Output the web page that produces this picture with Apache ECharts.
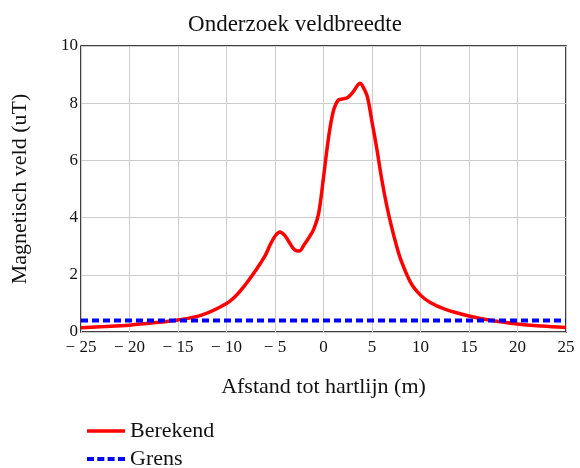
<!DOCTYPE html>
<html><head><meta charset="utf-8">
<script src="https://cdn.jsdelivr.net/npm/echarts@6/dist/echarts.min.js"></script>
<style>html,body{margin:0;padding:0;background:#fff}#c{width:580px;height:468px}</style>
</head><body><div id="c"></div>
<script>
const afstand = [-25,-22.5,-20,-17.5,-15,-12.5,-10,-9,-8,-7,-6,-5.5,-5,-4.5,-4,-3.5,-3,-2.5,-2,-1.5,-1,-0.5,0,0.5,1,1.5,2,2.5,3,3.5,3.75,4,4.5,5,5.5,6,6.5,7,7.5,8,9,10,11,12.5,15,17.5,20,22.5,25];
const berekend = [0.15,0.19,0.24,0.32,0.42,0.6,1.0,1.28,1.68,2.15,2.68,3.05,3.35,3.5,3.38,3.12,2.88,2.83,3.05,3.3,3.6,4.15,5.4,6.75,7.7,8.1,8.15,8.2,8.37,8.62,8.7,8.62,8.25,7.35,6.4,5.35,4.45,3.7,3.05,2.5,1.72,1.29,1.03,0.8,0.56,0.39,0.28,0.21,0.16];
const grensX = [-25, 25];
const grens = [0.4, 0.4];

const serif = '"Liberation Serif","DejaVu Serif",serif';
const legendText = {fontFamily: serif, fontSize: 22, color: '#111'};
const chart = echarts.init(document.getElementById('c'));
chart.setOption({
  animation: false,
  backgroundColor: '#fff',
  title: {text: 'Onderzoek veldbreedte', left: 290, top: 8, textAlign: 'center',
    textStyle: {fontFamily: serif, fontSize: 23, fontWeight: 'normal', color: '#111'}},
  grid: {left: 81, right: 14, top: 46, bottom: 136, show: true, borderColor: '#000', borderWidth: 1.5, backgroundColor: 'transparent'},
  legend: [
    {left: 82, top: 415, itemWidth: 38, itemHeight: 3.5, textStyle: legendText,
     data: [{name: 'Berekend', icon: 'rect'}]},
    {left: 82, top: 443, itemWidth: 38, itemHeight: 4, textStyle: legendText,
     data: [{name: 'Grens', icon: 'path://M0 0h7v4H0z M10.3 0h7v4h-7z M20.6 0h7v4h-7z M30.9 0h7.1v4h-7.1z'}]}
  ],
  xAxis: {type: 'value', min: -25, max: 25, interval: 5,
    name: 'Afstand tot hartlijn (m)', nameLocation: 'middle', nameGap: 44,
    nameTextStyle: {fontFamily: serif, fontSize: 22, color: '#111'},
    axisLine: {show: false}, axisTick: {show: false},
    axisLabel: {fontFamily: serif, fontSize: 17, color: '#111', margin: 7,
      formatter: v => v < 0 ? '\u2212 ' + (-v) : String(v)},
    splitLine: {show: true, lineStyle: {color: '#cccccc', width: 1}}},
  yAxis: {type: 'value', min: 0, max: 10, interval: 2,
    name: 'Magnetisch veld (uT)', nameLocation: 'middle', nameGap: 50,
    nameTextStyle: {fontFamily: serif, fontSize: 22, color: '#111'},
    axisLine: {show: false}, axisTick: {show: false},
    axisLabel: {fontFamily: serif, fontSize: 17, color: '#111', margin: 3},
    splitLine: {show: true, lineStyle: {color: '#cccccc', width: 1}}},
  series: [
    {name: 'Berekend', type: 'line', smooth: 0.35, symbol: 'none',
     data: afstand.map((x, i) => [x, berekend[i]]),
     lineStyle: {color: '#ff0000', width: 3.5}, itemStyle: {color: '#ff0000'}, z: 3},
    {name: 'Grens', type: 'line', symbol: 'none',
     data: grensX.map((x, i) => [x, grens[i]]),
     lineStyle: {color: '#0000ff', width: 4, type: [7, 4]}, itemStyle: {color: '#0000ff'}, z: 4}
  ]
});
</script></body></html>
